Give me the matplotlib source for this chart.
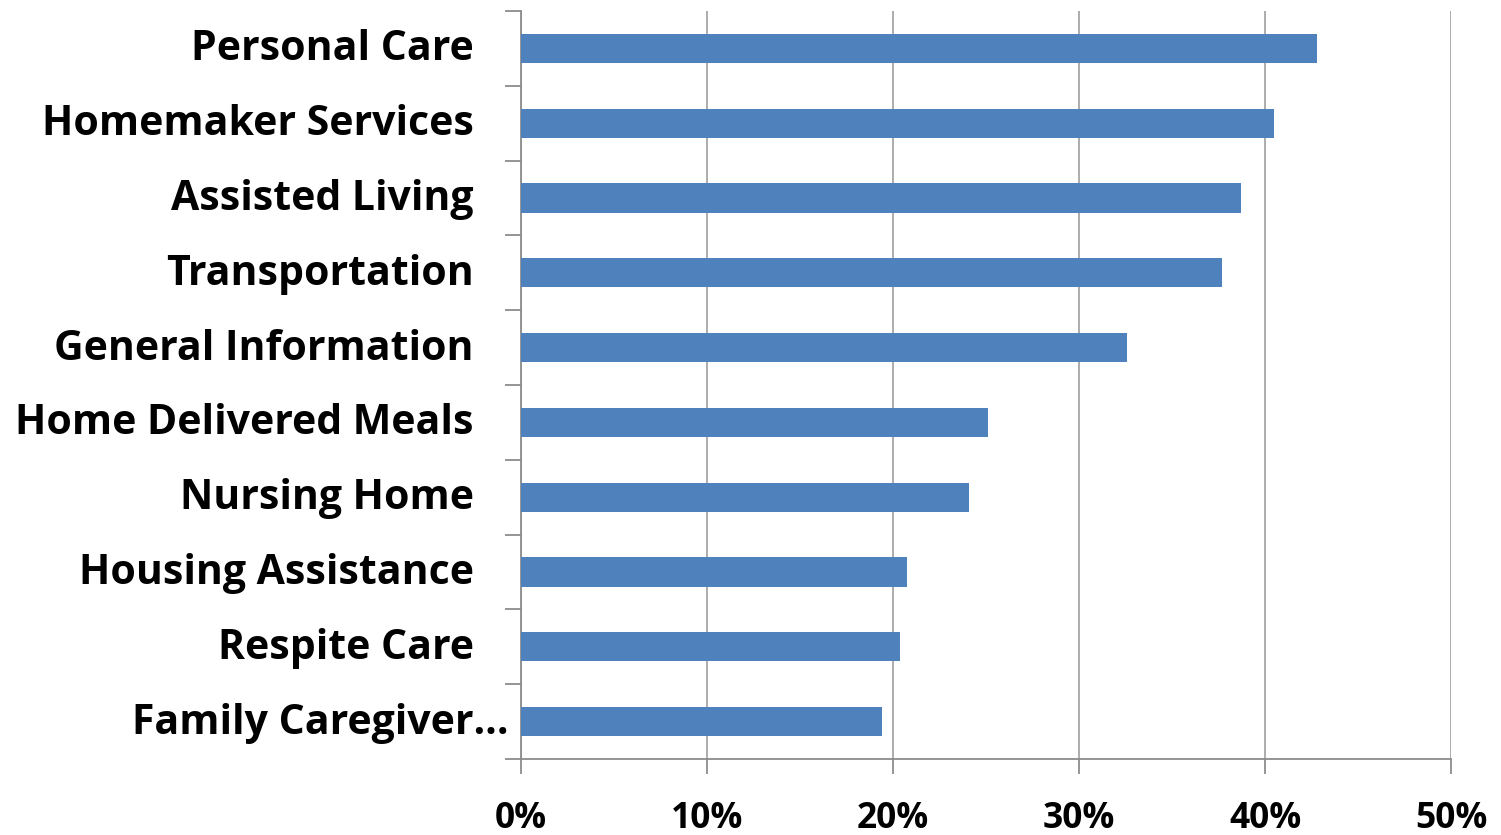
import matplotlib
matplotlib.use("Agg")
import matplotlib.pyplot as plt
import matplotlib.transforms as mtransforms
import numpy as np

plt.rcParams["font.family"] = ["Open Sans", "DejaVu Sans"]

# service categories, top to bottom
services = ["Personal Care", "Homemaker Services", "Assisted Living", "Transportation",
            "General Information", "Home Delivered Meals", "Nursing Home",
            "Housing Assistance", "Respite Care", "Family Caregiver\u2026"]
shares = [42.8, 40.5, 38.7, 37.7, 32.6, 25.1, 24.1, 20.75, 20.4, 19.4]
x_ticks = [0, 10, 20, 30, 40, 50]

fig = plt.figure(figsize=(15.01, 8.35), dpi=100)
ax = fig.add_axes([0.3471, 0.091, 0.6196, 0.8958])

y = np.arange(len(services))
ax.barh(y, shares, height=0.39, color="#4F81BD", zorder=3)

ax.set_xlim(0, 50)
ax.set_ylim(len(services) - 0.5, -0.5)
ax.set_xticks(x_ticks)
ax.set_xticklabels([f"{t}%" for t in x_ticks], fontsize=25.5, fontweight="bold")
ax.xaxis.grid(True, color="#A6A6A6", linewidth=1.3, zorder=0)
ax.tick_params(axis="x", length=11, width=1.3, color="#8C8C8C", pad=19)

# category boundaries get the tick marks, labels drawn separately
ax.set_yticks(np.arange(-0.5, len(services), 1.0))
ax.set_yticklabels([])
ax.tick_params(axis="y", length=11.5, width=1.3, color="#8C8C8C")

for s in ["top", "right"]:
    ax.spines[s].set_visible(False)
for s in ["left", "bottom"]:
    ax.spines[s].set_color("#8C8C8C")
    ax.spines[s].set_linewidth(1.3)

trans = mtransforms.blended_transform_factory(ax.transAxes, ax.transData)
for i, name in enumerate(services):
    off = -9 if name.endswith("\u2026") else -34
    ax.annotate(name, xy=(0, i), xycoords=trans, xytext=(off, -1),
                textcoords="offset points", ha="right", va="center",
                fontsize=29.5, fontweight="bold", color="black")

fig.savefig("out.png", dpi=100, facecolor="white")
